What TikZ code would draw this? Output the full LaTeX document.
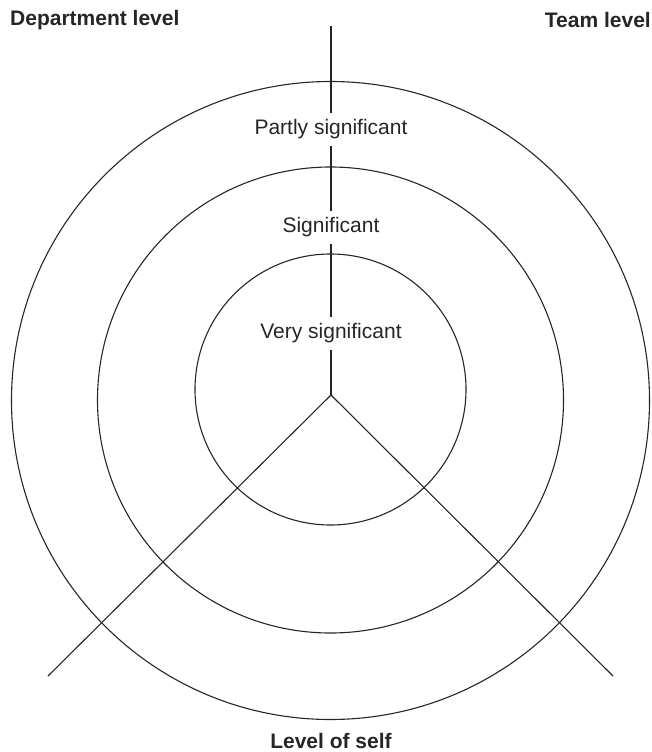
\documentclass[tikz,border=0pt]{standalone}
\usepackage{fontspec}
\setmainfont{Liberation Sans}
\begin{document}
\begin{tikzpicture}[x=1pt,y=-1pt,
  ring/.style={draw=black!85,line width=1.1pt},
  axis/.style={draw=black!85,line width=1.1pt},
  ringlabel/.style={fill=white,inner sep=0pt,minimum height=33pt,font=\fontsize{21}{25}\selectfont,text=black!85},
  levellabel/.style={inner sep=0pt,font=\fontsize{21}{25}\selectfont\bfseries,text=black!85}]
\useasboundingbox (0,0) rectangle (652,752);
\coordinate (c) at (331,395);
\coordinate (top) at (331,26);
\coordinate (bl) at (48,676);
\coordinate (br) at (613,676);
\draw[ring] (330.5,400.5) circle (319);
\draw[ring] (330.5,400) circle (233);
\draw[ring] (330.5,389.5) circle (135.5);
\draw[axis] (top) -- (c);
\draw[axis] (c) -- (bl);
\draw[axis] (c) -- (br);
\node[ringlabel] (partly) at (331,129.5) {Partly significant};
\node[ringlabel] (sig) at (331,227) {Significant};
\node[ringlabel] (very) at (331,333) {Very significant};
\node[levellabel,anchor=west] (dept) at (10,20) {Department level};
\node[levellabel,anchor=east] (team) at (651,20) {Team level};
\node[levellabel,anchor=base] (self) at (331,748) {Level of self};
\end{tikzpicture}
\end{document}
